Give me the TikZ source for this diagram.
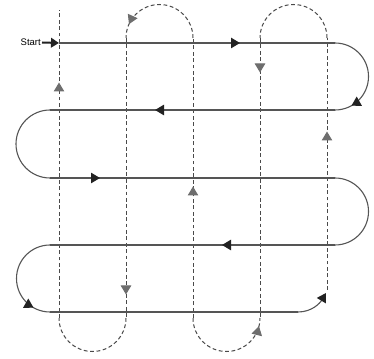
\documentclass[tikz,border=0pt]{standalone}
\usepackage{fontspec}
\setmainfont{Liberation Sans}
\usetikzlibrary{arrows.meta,decorations.markings}
\definecolor{solidline}{HTML}{555555}
\definecolor{dashline}{HTML}{4A4A4A}
\definecolor{darkarr}{HTML}{222222}
\definecolor{greyarr}{HTML}{6E6E6E}
\tikzset{
  pathline/.style={draw=solidline,line width=1.1pt},
  dashpath/.style={draw=dashline,line width=1pt,dash pattern=on 3.8pt off 2.6pt},
  darktip/.style={postaction={decorate},decoration={markings,
    mark=at position #1 with {\arrow{Triangle[length=9pt,width=10.5pt,color=darkarr,fill=darkarr]}}}},
  greytip/.style={postaction={decorate},decoration={markings,
    mark=at position #1 with {\arrow{Triangle[length=9pt,width=10.5pt,color=greyarr,fill=greyarr]}}}},
}
\begin{document}
\begin{tikzpicture}[x=1pt,y=1pt]
\useasboundingbox (0,0) rectangle (374,358);
% key points of the solid route
\coordinate (s0) at (59,315);
\coordinate (r1) at (335,315);
\coordinate (l1) at (50,248);
\coordinate (r2) at (335,180);
\coordinate (l2) at (50,113);
\coordinate (b0) at (298,46);
\coordinate (e0) at (326,65);
% dashed verticals
\coordinate (v1t) at (59,348);  \coordinate (v1b) at (59,40);
\coordinate (v2t) at (126,320); \coordinate (v2b) at (126,40);
\coordinate (v3t) at (193,320); \coordinate (v3b) at (193,40);
\coordinate (v4t) at (260,320); \coordinate (v4b) at (260,40);
\coordinate (v5t) at (327,320); \coordinate (v5b) at (327,68);

% dashed route
\draw[dashpath,greytip=158.5pt] (v5b) -- (v5t);
\draw[dashpath] (v5t) arc[start angle=0,end angle=180,radius=33.5];
\draw[dashpath,greytip=34.5pt] (v4t) -- (v4b);
\draw[dashpath,greytip=97pt] (v3b) arc[start angle=180,end angle=360,radius=33.5];
\draw[dashpath,greytip=131.5pt] (v3b) -- (v3t);
\draw[dashpath,greytip=91pt] (v3t) arc[start angle=0,end angle=180,radius=33.5];
\draw[dashpath,greytip=256.5pt] (v2t) -- (v2b);
\draw[dashpath] (v2b) arc[start angle=360,end angle=180,radius=33.5];
\draw[dashpath,greytip=235.5pt] (v1b) -- (v1t);

% solid route
\draw[pathline,darktip=181pt] (s0) -- (r1);
\draw[pathline,darktip=88pt] (r1) arc[start angle=90,end angle=-90,radius=33.5];
\draw[pathline,darktip=180pt] (335,248) -- (l1);
\draw[pathline] (l1) arc[start angle=90,end angle=270,radius=34];
\draw[pathline,darktip=50pt] (50,180) -- (r2);
\draw[pathline] (r2) arc[start angle=90,end angle=-90,radius=33.5];
\draw[pathline,darktip=113pt] (335,113) -- (l2);
\draw[pathline,darktip=88pt] (l2) arc[start angle=90,end angle=270,radius=33.5];
\draw[pathline] (50,46) -- (b0);
\draw[pathline,-{Triangle[length=9pt,width=10.5pt,color=darkarr,fill=darkarr]}]
  (b0) .. controls (312,46) and (320,55) .. (e0);

% start marker
\node[anchor=east,font=\fontsize{9.5}{11}\selectfont,inner sep=0pt] (start) at (41,315.5) {Start};
\draw[draw=darkarr,line width=2pt,-{Triangle[length=8pt,width=9.5pt,color=darkarr,fill=darkarr]}]
  (start.east) ++(1,0) -- (s0);
\end{tikzpicture}
\end{document}
